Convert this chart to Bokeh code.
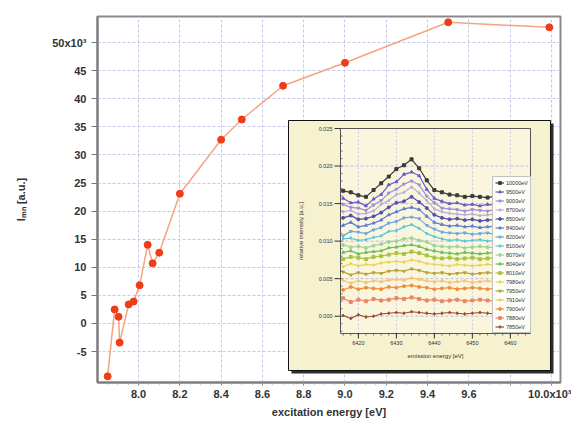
import math
from bokeh.plotting import figure
from bokeh.models import Range1d, FixedTicker, Legend, LegendItem
from bokeh.core.properties import value
from bokeh.embed import file_html
from bokeh.resources import INLINE

# ---------------- main chart data ----------------
exc_energy = [7850, 7884, 7903, 7908, 7952, 7976, 8005, 8044, 8068, 8100,
              8200, 8400, 8500, 8700, 9000, 9500, 9990]
intensity = [-9400, 2500, 1200, -3400, 3400, 3900, 6800, 14000, 10700, 12600,
             23100, 32700, 36300, 42300, 46400, 53600, 52700]

x_ticks = [8000, 8200, 8400, 8600, 8800, 9000, 9200, 9400, 9600, 9800, 10000]
x_tick_labels = ["8.0", "8.2", "8.4", "8.6", "8.8", "9.0", "9.2", "9.4", "9.6", "", "10.0x10\u00b3"]
y_ticks = [-5000, 0, 5000, 10000, 15000, 20000, 25000, 30000, 35000, 40000, 45000, 50000]
y_tick_labels = ["-5", "0", "5", "10", "15", "20", "25", "30", "35", "40", "45", "50x10\u00b3"]

# ---------------- inset data ----------------
em_energy = [6416, 6418, 6420, 6422, 6424, 6426, 6428, 6430, 6432, 6434, 6436, 6438, 6440,
             6442, 6444, 6446, 6448, 6450, 6452, 6454, 6456, 6458, 6460, 6462, 6464]
spec_10000 = [0.0167, 0.0165, 0.0161, 0.0159, 0.0168, 0.0177, 0.0186, 0.0196, 0.0201, 0.0209, 0.0197, 0.0181, 0.0168,
              0.0165, 0.0162, 0.0161, 0.0159, 0.0160, 0.0159, 0.0158, 0.0160, 0.0158, 0.0159, 0.0157, 0.0158]
spec_9500 = [0.0157, 0.0151, 0.0152, 0.0147, 0.0156, 0.0162, 0.0175, 0.0179, 0.0189, 0.0192, 0.0187, 0.0169, 0.0157,
             0.0153, 0.0150, 0.0151, 0.0148, 0.0149, 0.0147, 0.0149, 0.0148, 0.0147, 0.0149, 0.0148, 0.0147]
spec_9000 = [0.0149, 0.0145, 0.0144, 0.0141, 0.0148, 0.0154, 0.0164, 0.0169, 0.0176, 0.0180, 0.0175, 0.0160, 0.0151,
             0.0144, 0.0143, 0.0142, 0.0140, 0.0142, 0.0141, 0.0140, 0.0142, 0.0141, 0.0140, 0.0141, 0.0142]
spec_8700 = [0.0139, 0.0141, 0.0136, 0.0137, 0.0140, 0.0149, 0.0154, 0.0162, 0.0165, 0.0172, 0.0164, 0.0154, 0.0143,
             0.0139, 0.0137, 0.0136, 0.0135, 0.0136, 0.0134, 0.0135, 0.0136, 0.0134, 0.0135, 0.0136, 0.0134]
spec_8500 = [0.0131, 0.0134, 0.0129, 0.0130, 0.0133, 0.0138, 0.0145, 0.0151, 0.0153, 0.0159, 0.0152, 0.0144, 0.0135,
             0.0131, 0.0129, 0.0130, 0.0128, 0.0129, 0.0127, 0.0128, 0.0129, 0.0128, 0.0127, 0.0128, 0.0129]
spec_8400 = [0.0121, 0.0125, 0.0119, 0.0121, 0.0124, 0.0128, 0.0135, 0.0139, 0.0143, 0.0145, 0.0142, 0.0133, 0.0125,
             0.0122, 0.0120, 0.0121, 0.0119, 0.0120, 0.0118, 0.0119, 0.0120, 0.0119, 0.0118, 0.0119, 0.0120]
spec_8200 = [0.0107, 0.0113, 0.0112, 0.0110, 0.0115, 0.0118, 0.0124, 0.0126, 0.0131, 0.0132, 0.0130, 0.0121, 0.0116,
             0.0112, 0.0111, 0.0110, 0.0111, 0.0109, 0.0110, 0.0111, 0.0109, 0.0110, 0.0111, 0.0110, 0.0109]
spec_8100 = [0.0103, 0.0104, 0.0101, 0.0102, 0.0105, 0.0107, 0.0113, 0.0114, 0.0119, 0.0122, 0.0117, 0.0110, 0.0106,
             0.0103, 0.0101, 0.0102, 0.0100, 0.0101, 0.0102, 0.0100, 0.0101, 0.0102, 0.0101, 0.0100, 0.0101]
spec_8070 = [0.0095, 0.0092, 0.0093, 0.0091, 0.0094, 0.0096, 0.0099, 0.0100, 0.0103, 0.0104, 0.0101, 0.0099, 0.0094,
             0.0093, 0.0092, 0.0093, 0.0091, 0.0092, 0.0093, 0.0092, 0.0091, 0.0092, 0.0093, 0.0092, 0.0091]
spec_8040 = [0.0085, 0.0087, 0.0083, 0.0085, 0.0086, 0.0087, 0.0091, 0.0092, 0.0094, 0.0095, 0.0093, 0.0089, 0.0087,
             0.0085, 0.0084, 0.0083, 0.0085, 0.0084, 0.0083, 0.0084, 0.0085, 0.0084, 0.0083, 0.0084, 0.0085]
spec_8010 = [0.0076, 0.0079, 0.0078, 0.0076, 0.0079, 0.0080, 0.0082, 0.0084, 0.0083, 0.0086, 0.0084, 0.0081, 0.0078,
             0.0077, 0.0078, 0.0076, 0.0077, 0.0078, 0.0076, 0.0077, 0.0078, 0.0077, 0.0076, 0.0077, 0.0078]
spec_7980 = [0.0066, 0.0070, 0.0067, 0.0069, 0.0068, 0.0071, 0.0072, 0.0073, 0.0072, 0.0075, 0.0073, 0.0070, 0.0069,
             0.0068, 0.0067, 0.0069, 0.0068, 0.0067, 0.0068, 0.0069, 0.0068, 0.0067, 0.0068, 0.0069, 0.0068]
spec_7950 = [0.0059, 0.0055, 0.0058, 0.0056, 0.0058, 0.0057, 0.0060, 0.0061, 0.0060, 0.0063, 0.0061, 0.0058, 0.0057,
             0.0058, 0.0056, 0.0057, 0.0058, 0.0056, 0.0057, 0.0058, 0.0057, 0.0056, 0.0057, 0.0058, 0.0057]
spec_7910 = [0.0048, 0.0044, 0.0047, 0.0045, 0.0047, 0.0046, 0.0048, 0.0049, 0.0048, 0.0051, 0.0049, 0.0047, 0.0046,
             0.0047, 0.0045, 0.0046, 0.0047, 0.0045, 0.0046, 0.0047, 0.0046, 0.0045, 0.0046, 0.0047, 0.0046]
spec_7900 = [0.0035, 0.0039, 0.0036, 0.0038, 0.0037, 0.0036, 0.0039, 0.0038, 0.0040, 0.0041, 0.0039, 0.0038, 0.0036,
             0.0037, 0.0038, 0.0036, 0.0037, 0.0038, 0.0037, 0.0036, 0.0037, 0.0038, 0.0037, 0.0036, 0.0037]
spec_7880 = [0.0024, 0.0019, 0.0022, 0.0020, 0.0023, 0.0021, 0.0022, 0.0024, 0.0023, 0.0025, 0.0023, 0.0021, 0.0022,
             0.0020, 0.0021, 0.0022, 0.0020, 0.0021, 0.0022, 0.0021, 0.0020, 0.0021, 0.0022, 0.0021, 0.0020]
spec_7850 = [0.0001, -0.0003, 0.0002, -0.0001, 0.0000, 0.0003, 0.0004, 0.0005, 0.0004, 0.0006, 0.0005, 0.0004, 0.0003,
             0.0004, 0.0005, 0.0004, 0.0003, 0.0004, 0.0005, 0.0004, 0.0003, 0.0004, 0.0005, 0.0004, 0.0004]

spectra = [spec_10000, spec_9500, spec_9000, spec_8700, spec_8500, spec_8400, spec_8200, spec_8100,
           spec_8070, spec_8040, spec_8010, spec_7980, spec_7950, spec_7910, spec_7900, spec_7880, spec_7850]
spec_labels = ["10000eV", "9500eV", "9000eV", "8700eV", "8500eV", "8400eV", "8200eV", "8100eV",
               "8070eV", "8040eV", "8010eV", "7980eV", "7950eV", "7910eV", "7900eV", "7880eV", "7850eV"]
spec_colors = ["#3a3a3a", "#6a5acd", "#9d8fd6", "#b9acdf", "#5050b0", "#5f7fd0", "#6fa8e0", "#5ec6d6",
               "#9fd49a", "#6cbf55", "#a8c440", "#e8d35a", "#b5a43c", "#f7c272", "#f08d3a", "#e8876a", "#9c4a2a"]
spec_markers = ["square", "triangle", "inverted_triangle", "diamond", "circle", "triangle", "inverted_triangle",
                "diamond", "circle", "triangle", "square", "diamond", "inverted_triangle", "triangle",
                "circle", "square", "diamond"]

inset_x_ticks = [6420, 6430, 6440, 6450, 6460]
inset_y_ticks = [0.000, 0.005, 0.010, 0.015, 0.020, 0.025]
inset_y_labels = ["0.000", "0.005", "0.010", "0.015", "0.020", "0.025"]

# ---------------- figure ----------------
W, H = 571, 426
BL, BR, BT, BB = 97, 11, 16, 44
FW, FH = W - BL - BR, H - BT - BB
X0, X1 = 7801, 10044
Y0, Y1 = -10500, 54630
FONT = "Liberation Sans"

p = figure(width=W, height=H, output_backend="svg", toolbar_location=None,
           x_range=Range1d(X0, X1), y_range=Range1d(Y0, Y1),
           min_border_left=BL, min_border_right=BR, min_border_top=BT, min_border_bottom=BB,
           background_fill_color="white", border_fill_color="white")
p.outline_line_color = "#8a8a8a"
p.outline_line_width = 2

minor_x = list(range(7800, 10050, 50))
p.xaxis.ticker = FixedTicker(ticks=x_ticks, minor_ticks=minor_x)
p.yaxis.ticker = FixedTicker(ticks=y_ticks, minor_ticks=[])
p.xaxis.major_label_overrides = {t: l for t, l in zip(x_ticks, x_tick_labels)}
p.yaxis.major_label_overrides = {t: l for t, l in zip(y_ticks, y_tick_labels)}

for ax in (p.xaxis[0], p.yaxis[0]):
    ax.axis_line_color = "#7a7a7a"
    ax.axis_line_width = 2
    ax.major_tick_line_color = "#7a7a7a"
    ax.minor_tick_line_color = "#9a9a9a"
    ax.major_label_text_font = FONT
    ax.major_label_text_font_style = "bold"
    ax.major_label_text_font_size = "11px"
    ax.major_label_text_color = "#333333"
    ax.axis_label_text_font = FONT
    ax.axis_label_text_font_style = "bold"
    ax.axis_label_text_font_size = "11px"
    ax.axis_label_text_color = "#333333"

p.xaxis.axis_label = "excitation energy [eV]"
p.xaxis.major_tick_in = 0
p.xaxis.major_tick_out = 3
p.xaxis.minor_tick_in = 0
p.xaxis.minor_tick_out = 2
p.xaxis.major_label_standoff = 2
p.xaxis.axis_label_standoff = 3

p.yaxis.axis_label = "I\u2098\u2099 [a.u.]"
p.yaxis.major_tick_in = 0
p.yaxis.major_tick_out = 6
p.yaxis.minor_tick_out = 0
p.yaxis.major_label_standoff = 5
p.yaxis.axis_label_standoff = 22

for g in (p.xgrid[0], p.ygrid[0]):
    g.grid_line_color = "#c3c9e6"
    g.grid_line_dash = "3 2"
    g.grid_line_width = 1

# main series
p.line(exc_energy, intensity, line_color="#f6a383", line_width=1.5)
p.scatter(exc_energy, intensity, size=7, fill_color="#f03c18", line_color="#f03c18")

# ---------------- inset ----------------
def fx(px):
    return X0 + px / FW * (X1 - X0)

def fy(py):
    return Y1 - py / FH * (Y1 - Y0)

# panel shadow and panel (frame-relative pixel positions)
p.quad(left=[fx(194)], right=[fx(456)], top=[fy(107)], bottom=[fy(357)],
       fill_color="#2e2e2e", line_color=None)
p.quad(left=[fx(191)], right=[fx(453)], top=[fy(104)], bottom=[fy(354)],
       fill_color="#f6f1cf", line_color="#111111", line_width=1)

EX0, EX1 = 6415.3, 6465.3
IY0, IY1 = -0.0023, 0.025
sub = p.subplot(x_source=Range1d(EX0, EX1), y_source=Range1d(IY0, IY1),
                x_target=Range1d(fx(243), fx(433)), y_target=Range1d(fy(317), fy(112)))

dx = (EX1 - EX0) / 190.0   # eV per pixel
dy = (IY1 - IY0) / 205.0   # intensity per pixel

sub.quad(left=[EX0], right=[EX1], bottom=[IY0], top=[IY1], fill_color="#faf6de", line_color=None)

# inset grid
sub.segment(x0=inset_x_ticks, x1=inset_x_ticks, y0=[IY0] * 5, y1=[IY1] * 5,
            line_color="#c3c9e6", line_dash="2 2", line_width=1)
sub.segment(x0=[EX0] * 5, x1=[EX1] * 5, y0=inset_y_ticks[:5], y1=inset_y_ticks[:5],
            line_color="#b8bedc", line_dash="3 2", line_width=1)

# spectra
legend_items = []
for vals, lab, col, mk in zip(spectra[::-1], spec_labels[::-1], spec_colors[::-1], spec_markers[::-1]):
    lr = sub.line(em_energy, vals, line_color=col, line_width=1.2)
    sr = sub.scatter(em_energy, vals, marker=mk, size=3, fill_color=col, line_color=col)
    legend_items.append(LegendItem(label=lab, renderers=[lr, sr]))
legend_items = legend_items[::-1]

# inset frame
sub.quad(left=[EX0], right=[EX1], bottom=[IY0], top=[IY1], fill_color=None,
         line_color="#555555", line_width=1)

# inset ticks
minor_iy = [k * 0.001 for k in range(-2, 26)]
sub.segment(x0=[EX0] * len(minor_iy), x1=[EX0 + 2 * dx] * len(minor_iy), y0=minor_iy, y1=minor_iy,
            line_color="#555555", line_width=0.8)
sub.segment(x0=[EX0 - 6 * dx] * 6, x1=[EX0] * 6, y0=inset_y_ticks, y1=inset_y_ticks,
            line_color="#333333", line_width=1)
minor_ix = list(range(6416, 6466, 2))
sub.segment(x0=minor_ix, x1=minor_ix, y0=[IY0] * len(minor_ix), y1=[IY0 - 2 * dy] * len(minor_ix),
            line_color="#555555", line_width=0.8)
sub.segment(x0=inset_x_ticks, x1=inset_x_ticks, y0=[IY0] * 5, y1=[IY0 - 5 * dy] * 5,
            line_color="#333333", line_width=1)

# inset tick labels and titles
sub.text(x=[EX0 - 8 * dx] * 6, y=inset_y_ticks, text=inset_y_labels, text_align="right",
         text_baseline="middle", text_font=value(FONT), text_font_size="5.5px", text_color="#333333")
sub.text(x=inset_x_ticks, y=[IY0 - 7 * dy] * 5, text=[str(t) for t in inset_x_ticks], text_align="center",
         text_baseline="top", text_font=value(FONT), text_font_size="5.5px", text_color="#333333")
sub.text(x=[(EX0 + EX1) / 2], y=[IY0 - 19 * dy], text=["emission energy [eV]"], text_align="center",
         text_baseline="top", text_font=value(FONT), text_font_size="6px", text_color="#333333")
sub.text(x=[EX0 - 40 * dx], y=[(IY0 + IY1) / 2], text=["relative intensity [a.u.]"], angle=math.pi / 2,
         text_align="center", text_baseline="middle", text_font=value(FONT), text_font_size="6px",
         text_color="#333333")

legend = Legend(items=legend_items, location=(395, 49), orientation="vertical",
                label_text_font=FONT, label_text_font_size="5.5px", label_text_color="#333333",
                label_height=7, glyph_height=7, glyph_width=9, spacing=2, padding=2, margin=0,
                label_standoff=2, background_fill_color="#fdfdf8", background_fill_alpha=1.0,
                border_line_color="#888888", border_line_width=1)
p.add_layout(legend, "center")

open("out.html", "w").write(file_html(p, INLINE))
